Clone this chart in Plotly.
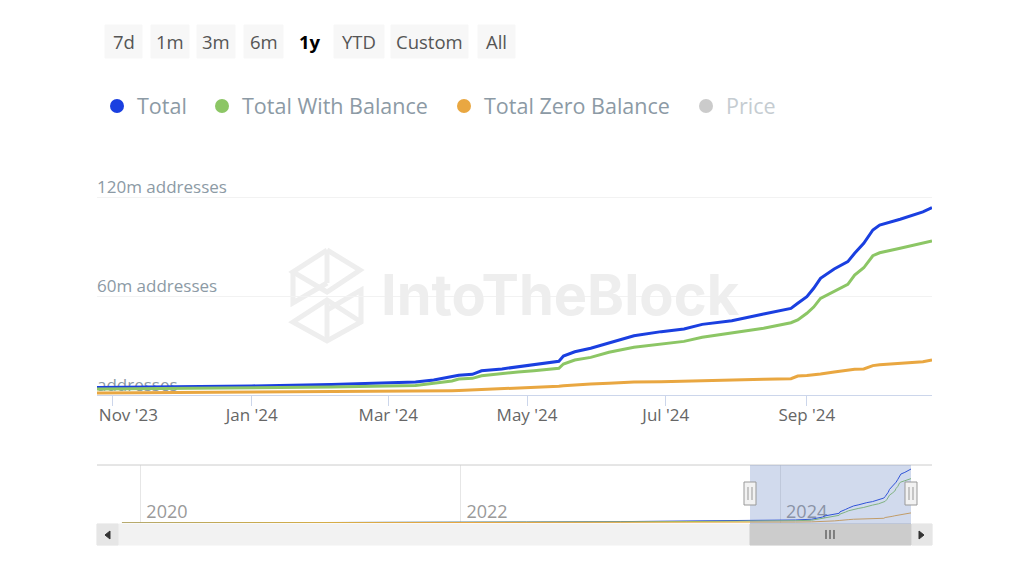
import plotly.graph_objects as go

# the page body keeps its 8px margin, so the figure is 16px smaller than the window
W, H = 1008, 557
FONT = "Open Sans"

dates = ["2023-10-25", "2023-11-26", "2024-01-01", "2024-02-05", "2024-03-13", "2024-03-21", "2024-03-29",
         "2024-04-01", "2024-04-07", "2024-04-11", "2024-04-20", "2024-04-27", "2024-05-04", "2024-05-15",
         "2024-05-17", "2024-05-22", "2024-05-29", "2024-06-06", "2024-06-17", "2024-06-29", "2024-07-09",
         "2024-07-17", "2024-07-30", "2024-08-13", "2024-08-25", "2024-08-28", "2024-09-01", "2024-09-04",
         "2024-09-07", "2024-09-13", "2024-09-19", "2024-09-22", "2024-09-26", "2024-09-30", "2024-10-03",
         "2024-10-12", "2024-10-22", "2024-10-26"]
total = [4.5, 4.8, 5.5, 6.4, 7.9, 9.1, 10.9, 11.9, 12.5, 14.7, 15.8, 17.2, 18.2, 20.4, 23.6, 26.2, 28.3, 31.7,
         35.9, 38.4, 40.0, 42.8, 45.0, 49.1, 52.5, 55.6, 59.6, 64.7, 70.7, 76.4, 80.8, 85.9, 91.9, 100.0, 103.0,
         106.5, 111.0, 113.5]
with_balance = [3.6, 3.9, 4.2, 4.8, 5.8, 7.0, 8.5, 9.7, 10.1, 11.7, 12.7, 13.9, 14.7, 16.2, 18.8, 21.2, 22.8,
                25.9, 28.9, 30.9, 32.5, 35.0, 37.6, 40.4, 43.8, 45.5, 49.5, 53.3, 58.6, 62.6, 67.1, 72.7, 77.1,
                84.4, 86.2, 88.9, 91.9, 93.3]
zero_balance = [1.2, 1.4, 1.6, 2.0, 2.4, 2.5, 2.6, 2.7, 3.0, 3.6, 3.9, 4.2, 4.4, 5.3, 5.6, 6.1, 6.7, 7.1, 7.9,
                8.1, 8.5, 8.7, 9.1, 9.5, 9.9, 11.5, 11.8, 12.2, 12.7, 13.9, 15.2, 15.6, 15.8, 17.8, 18.3, 19.4,
                20.2, 21.2]

# history before the 1y window, only visible in the navigator
old_dates = ["2019-11-20", "2020-06-01", "2021-01-01", "2021-09-01", "2022-06-01", "2023-01-01", "2023-06-01"]
old_total = [0.1, 0.3, 0.6, 1.2, 2.0, 2.9, 3.8]
old_with_balance = [0.1, 0.2, 0.5, 0.9, 1.6, 2.3, 3.0]
old_zero_balance = [0.0, 0.1, 0.1, 0.3, 0.4, 0.6, 0.8]

series_names = ["Total", "Total With Balance", "Total Zero Balance"]
series_colors = ["#1a3fe0", "#8cc665", "#e9a741"]
series_values = [total, with_balance, zero_balance]
old_values = [old_total, old_with_balance, old_zero_balance]
legend_widths = [60, 197, 197]

y_ticks = [0, 60, 120]
y_labels = ["addresses", "60m addresses", "120m addresses"]
x_ticks = ["2023-11-01", "2024-01-01", "2024-03-01", "2024-05-01", "2024-07-01", "2024-09-01"]
# first label is padded because it sits right of its tick, inside the plot edge
x_labels = ["\u00a0" * 7 + "Nov '23", "Jan '24", "Mar '24", "May '24", "Jul '24", "Sep '24"]
nav_ticks = ["2020-01-01", "2022-01-01", "2024-01-01"]
nav_labels = ["2020", "2022", "2024"]
buttons = ["7d", "1m", "3m", "6m", "1y", "YTD", "Custom", "All"]
button_left = [105, 151, 197, 244, 291, 334, 391, 478]
button_right = [142, 189, 235, 283, 329, 384, 468, 515]


def px(x):
    return (x - 8) / W


def py(y):
    return 1 - (y - 8) / H


def rect(x0, y0, x1, y1, color, line=None):
    return dict(type="rect", xref="paper", yref="paper", x0=px(x0), x1=px(x1), y0=py(y0), y1=py(y1),
                fillcolor=color, line=dict(color=line or color, width=1), layer="below" if color == "#f7f7f7" else "above")


def path(points, color, width=1, fill=None, layer="above"):
    d = "M " + " L ".join(f"{px(a):.5f},{py(b):.5f}" for a, b in points)
    if fill:
        d += " Z"
    return dict(type="path", xref="paper", yref="paper", path=d, fillcolor=fill, layer=layer,
                line=dict(color=color, width=width))


fig = go.Figure()

# y labels as a text trace: inside tick labels make plotly drop the Nov '23 tick,
# and they have to sit under the lines
fig.add_trace(go.Scatter(x=[dates[0]] * len(y_ticks), y=y_ticks, mode="text", text=y_labels,
                         textposition="top right",
                         textfont=dict(family=FONT, size=17, color="#8c9aa5"),
                         showlegend=False, hoverinfo="skip"))

for name, color, values, old in zip(series_names, series_colors, series_values, old_values):
    fig.add_trace(go.Scatter(x=dates, y=values, mode="lines", line=dict(color=color, width=3),
                             showlegend=False, hoverinfo="skip"))
    fig.add_trace(go.Scatter(x=old_dates + dates, y=old + values, mode="lines", xaxis="x2", yaxis="y2",
                             line=dict(color=color, width=1), showlegend=False, hoverinfo="skip"))

# legend entries are dots, the real lines stay out of it
for name, color, lw in zip(series_names, series_colors, legend_widths):
    fig.add_trace(go.Scatter(x=[None], y=[None], mode="markers", name=name, legendwidth=lw,
                             marker=dict(color=color, size=14)))
fig.add_trace(go.Scatter(x=[None], y=[None], mode="markers", name="Price", visible="legendonly",
                         marker=dict(color="#999999", size=14)))

shapes = []

# navigator frame and scrollbar
shapes.append(path([(97, 465), (932, 465)], "#cccccc", 1))
shapes.append(rect(97, 524, 932, 545, "#f2f2f2"))
shapes.append(rect(97, 524, 118, 545, "#e6e6e6"))
shapes.append(rect(912, 524, 932, 545, "#e6e6e6"))
shapes.append(rect(750, 524, 911, 545, "#cccccc"))
shapes.append(rect(750, 465, 911, 524, "rgba(102,133,194,0.3)"))
shapes[-1]["line"] = dict(width=0)
shapes.append(path([(110, 531), (110, 539), (105, 535)], "#333333", 1, fill="#333333"))
shapes.append(path([(919, 531), (919, 539), (924, 535)], "#333333", 1, fill="#333333"))
for gx in [826, 830, 834]:
    shapes.append(path([(gx, 530), (gx, 539)], "#333333", 1))
for hx in [750, 911]:
    shapes.append(rect(hx - 6, 482, hx + 6, 505, "#f2f2f2", line="#999999"))
    shapes.append(path([(hx - 2, 487), (hx - 2, 500)], "#999999", 1))
    shapes.append(path([(hx + 2, 487), (hx + 2, 500)], "#999999", 1))

# watermark logo
logo = [
    [(327, 250), (360, 270), (327, 292), (293, 272), (327, 250)],
    [(293, 272), (293, 303), (327, 283)],
    [(327, 250), (327, 283)],
    [(327, 310), (361, 290), (361, 322), (327, 341), (293, 322), (327, 300), (361, 322)],
    [(327, 300), (327, 341)],
]
for seg in logo:
    shapes.append(path(seg, "#eeeeee", 5, layer="below"))

annotations = [dict(text="IntoTheBlock", xref="paper", yref="paper", x=px(560), y=py(295), showarrow=False,
                    xanchor="center", yanchor="middle",
                    font=dict(family="Inter", size=56, color="#eeeeee", weight=700))]

for label, left, right in zip(buttons, button_left, button_right):
    active = label == "1y"
    if not active:
        shapes.append(rect(left, 25, right, 58, "#f7f7f7"))
    annotations.append(dict(text=label, xref="paper", yref="paper", x=px((left + right) / 2), y=py(41),
                            showarrow=False, xanchor="center", yanchor="middle",
                            font=dict(family=FONT, size=18.5, color="#000000" if active else "#555555",
                                      weight=700 if active else 400)))

fig.update_layout(
    width=W, height=H,
    margin=dict(l=0, r=0, t=0, b=0, autoexpand=False),
    paper_bgcolor="white", plot_bgcolor="white",
    font=dict(family=FONT, color="#666666"),
    shapes=shapes,
    annotations=annotations,
    showlegend=True,
    legend=dict(orientation="h", x=px(97), y=py(106), xanchor="left", yanchor="middle",
                font=dict(family=FONT, size=21.5, color="#8c9aa5"), bgcolor="rgba(0,0,0,0)"),
    xaxis=dict(domain=[px(97), px(932)], anchor="y", range=["2023-10-25", "2024-10-26"],
               tickvals=x_ticks, ticktext=x_labels,
               ticks="outside", ticklen=10, tickcolor="#ccd6eb",
               ticklabelstandoff=-5, ticklabeloverflow="allow",
               tickfont=dict(family=FONT, size=17, color="#666666"),
               showgrid=False, showline=True, linecolor="#ccd6eb", linewidth=1, zeroline=False),
    yaxis=dict(domain=[py(395), py(157.4)], anchor="x", range=[0, 144],
               tickvals=y_ticks, showticklabels=False,
               showgrid=True, gridcolor="#f2f2f2", showline=False, zeroline=False),
    xaxis2=dict(domain=[px(97), px(932)], anchor="y2", range=["2019-09-24", "2024-12-13"],
                tickvals=nav_ticks, ticktext=nav_labels, ticklabelposition="inside right",
                ticklabelshift=6, ticklabelstandoff=-5,
                tickfont=dict(family=FONT, size=18, color="#999999"), layer="below traces",
                showgrid=True, gridcolor="#e6e6e6", showline=False, zeroline=False, ticks=""),
    yaxis2=dict(domain=[py(523), py(465)], anchor="x2", range=[0, 122], visible=False),
)

fig.write_html("out.html", config=dict(displayModeBar=False))
